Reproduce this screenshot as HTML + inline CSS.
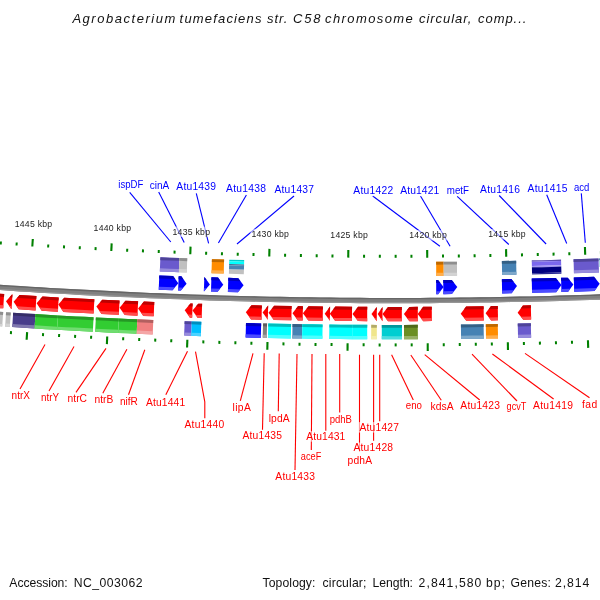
<!DOCTYPE html>
<html><head><meta charset="utf-8"><style>
html,body{margin:0;padding:0;background:#fff;width:600px;height:600px;overflow:hidden}
svg{display:block;font-family:"Liberation Sans",sans-serif}
svg{will-change:transform}
</style></head><body>
<svg width="600" height="600" viewBox="0 0 600 600">
<rect width="600" height="600" fill="#fff"/>
<text x="72.40" y="22.50" font-size="13.0" font-style="italic" fill="#111" textLength="103.00" lengthAdjust="spacing">Agrobacterium</text>
<text x="179.60" y="22.50" font-size="13.0" font-style="italic" fill="#111" textLength="81.80" lengthAdjust="spacing">tumefaciens</text>
<text x="267.00" y="22.50" font-size="13.0" font-style="italic" fill="#111" textLength="20.40" lengthAdjust="spacing">str.</text>
<text x="293.00" y="22.50" font-size="13.0" font-style="italic" fill="#111" textLength="27.40" lengthAdjust="spacing">C58</text>
<text x="325.00" y="22.50" font-size="13.0" font-style="italic" fill="#111" textLength="87.80" lengthAdjust="spacing">chromosome</text>
<text x="419.00" y="22.50" font-size="13.0" font-style="italic" fill="#111" textLength="52.40" lengthAdjust="spacing">circular,</text>
<text x="478.00" y="22.50" font-size="13.0" font-style="italic" fill="#111" textLength="48.40" lengthAdjust="spacing">comp...</text>
<polygon points="-19.82,283.42 -9.82,284.12 0.17,284.79 10.17,285.45 20.17,286.10 30.16,286.72 40.16,287.33 50.15,287.92 60.15,288.50 70.14,289.05 80.14,289.59 90.13,290.12 100.13,290.62 110.13,291.11 120.12,291.59 130.12,292.04 140.11,292.48 150.11,292.90 160.10,293.31 170.10,293.70 180.10,294.07 190.09,294.42 200.09,294.76 210.08,295.08 220.08,295.38 230.07,295.67 240.07,295.94 250.06,296.19 260.06,296.43 270.06,296.65 280.05,296.85 290.05,297.03 300.04,297.20 310.04,297.35 320.03,297.49 330.03,297.60 340.02,297.70 350.02,297.79 360.02,297.85 370.01,297.90 380.01,297.93 390.00,297.95 400.00,297.95 409.99,297.93 419.99,297.89 429.98,297.84 439.98,297.77 449.98,297.68 459.97,297.58 469.97,297.46 479.96,297.32 489.96,297.17 499.95,297.00 509.95,296.81 519.94,296.60 529.94,296.38 539.94,296.14 549.93,295.89 559.93,295.61 569.92,295.32 579.92,295.02 589.91,294.69 599.91,294.35 609.90,294.00 619.90,293.62 620.10,298.92 610.10,299.30 600.09,299.65 590.09,299.99 580.08,300.32 570.08,300.62 560.07,300.91 550.07,301.19 540.06,301.44 530.06,301.68 520.06,301.90 510.05,302.11 500.05,302.30 490.04,302.47 480.04,302.62 470.03,302.76 460.03,302.88 450.02,302.98 440.02,303.07 430.02,303.14 420.01,303.19 410.01,303.23 400.00,303.25 390.00,303.25 379.99,303.23 369.99,303.20 359.98,303.15 349.98,303.09 339.98,303.00 329.97,302.90 319.97,302.79 309.96,302.65 299.96,302.50 289.95,302.33 279.95,302.15 269.94,301.95 259.94,301.73 249.94,301.49 239.93,301.24 229.93,300.97 219.92,300.68 209.92,300.38 199.91,300.06 189.91,299.72 179.90,299.37 169.90,299.00 159.90,298.61 149.89,298.20 139.89,297.78 129.88,297.34 119.88,296.89 109.87,296.41 99.87,295.92 89.87,295.42 79.86,294.89 69.86,294.35 59.85,293.80 49.85,293.22 39.84,292.63 29.84,292.02 19.83,291.40 9.83,290.75 -0.17,290.09 -10.18,289.42 -20.18,288.72" fill="#808080"/>
<polygon points="-19.82,283.42 -9.82,284.12 0.17,284.79 10.17,285.45 20.17,286.10 30.16,286.72 40.16,287.33 50.15,287.92 60.15,288.50 70.14,289.05 80.14,289.59 90.13,290.12 100.13,290.62 110.13,291.11 120.12,291.59 130.12,292.04 140.11,292.48 150.11,292.90 160.10,293.31 170.10,293.70 180.10,294.07 190.09,294.42 200.09,294.76 210.08,295.08 220.08,295.38 230.07,295.67 240.07,295.94 250.06,296.19 260.06,296.43 270.06,296.65 280.05,296.85 290.05,297.03 300.04,297.20 310.04,297.35 320.03,297.49 330.03,297.60 340.02,297.70 350.02,297.79 360.02,297.85 370.01,297.90 380.01,297.93 390.00,297.95 400.00,297.95 409.99,297.93 419.99,297.89 429.98,297.84 439.98,297.77 449.98,297.68 459.97,297.58 469.97,297.46 479.96,297.32 489.96,297.17 499.95,297.00 509.95,296.81 519.94,296.60 529.94,296.38 539.94,296.14 549.93,295.89 559.93,295.61 569.92,295.32 579.92,295.02 589.91,294.69 599.91,294.35 609.90,294.00 619.90,293.62 619.95,294.97 609.95,295.35 599.96,295.70 589.96,296.04 579.96,296.37 569.96,296.67 559.96,296.96 549.97,297.24 539.97,297.49 529.97,297.73 519.97,297.95 509.97,298.16 499.98,298.35 489.98,298.52 479.98,298.67 469.98,298.81 459.99,298.93 449.99,299.03 439.99,299.12 429.99,299.19 419.99,299.24 410.00,299.28 400.00,299.30 390.00,299.30 380.00,299.28 370.01,299.25 360.01,299.20 350.01,299.14 340.01,299.05 330.01,298.95 320.02,298.84 310.02,298.70 300.02,298.55 290.02,298.38 280.02,298.20 270.03,298.00 260.03,297.78 250.03,297.54 240.03,297.29 230.04,297.02 220.04,296.73 210.04,296.43 200.04,296.11 190.04,295.77 180.05,295.42 170.05,295.05 160.05,294.66 150.05,294.25 140.06,293.83 130.06,293.39 120.06,292.94 110.06,292.46 100.06,291.97 90.07,291.47 80.07,290.94 70.07,290.40 60.07,289.85 50.07,289.27 40.08,288.68 30.08,288.07 20.08,287.45 10.08,286.80 0.09,286.14 -9.91,285.47 -19.91,284.77" fill="#666666"/>
<polygon points="-20.10,287.57 -10.10,288.27 -0.10,288.94 9.90,289.60 19.91,290.25 29.91,290.87 39.91,291.48 49.91,292.07 59.92,292.65 69.92,293.20 79.92,293.74 89.92,294.27 99.93,294.77 109.93,295.26 119.93,295.74 129.93,296.19 139.94,296.63 149.94,297.05 159.94,297.46 169.94,297.85 179.95,298.22 189.95,298.57 199.95,298.91 209.95,299.23 219.96,299.53 229.96,299.82 239.96,300.09 249.96,300.34 259.97,300.58 269.97,300.80 279.97,301.00 289.97,301.18 299.98,301.35 309.98,301.50 319.98,301.64 329.98,301.75 339.99,301.85 349.99,301.94 359.99,302.00 369.99,302.05 380.00,302.08 390.00,302.10 400.00,302.10 410.00,302.08 420.01,302.04 430.01,301.99 440.01,301.92 450.01,301.83 460.02,301.73 470.02,301.61 480.02,301.47 490.02,301.32 500.03,301.15 510.03,300.96 520.03,300.75 530.03,300.53 540.04,300.29 550.04,300.04 560.04,299.76 570.04,299.47 580.05,299.17 590.05,298.84 600.05,298.50 610.05,298.15 620.06,297.77 620.10,298.92 610.10,299.30 600.09,299.65 590.09,299.99 580.08,300.32 570.08,300.62 560.07,300.91 550.07,301.19 540.06,301.44 530.06,301.68 520.06,301.90 510.05,302.11 500.05,302.30 490.04,302.47 480.04,302.62 470.03,302.76 460.03,302.88 450.02,302.98 440.02,303.07 430.02,303.14 420.01,303.19 410.01,303.23 400.00,303.25 390.00,303.25 379.99,303.23 369.99,303.20 359.98,303.15 349.98,303.09 339.98,303.00 329.97,302.90 319.97,302.79 309.96,302.65 299.96,302.50 289.95,302.33 279.95,302.15 269.94,301.95 259.94,301.73 249.94,301.49 239.93,301.24 229.93,300.97 219.92,300.68 209.92,300.38 199.91,300.06 189.91,299.72 179.90,299.37 169.90,299.00 159.90,298.61 149.89,298.20 139.89,297.78 129.88,297.34 119.88,296.89 109.87,296.41 99.87,295.92 89.87,295.42 79.86,294.89 69.86,294.35 59.85,293.80 49.85,293.22 39.84,292.63 29.84,292.02 19.83,291.40 9.83,290.75 -0.17,290.09 -10.18,289.42 -20.18,288.72" fill="#969696"/>
<polygon points="4.17,294.05 -2.01,293.64 -8.00,300.42 -2.96,307.94 3.23,308.35" fill="#ff0000"/>
<polygon points="4.17,294.05 -2.01,293.64 -4.53,296.49 3.97,297.05" fill="#bd0000"/>
<polygon points="3.43,305.35 -5.08,304.78 -2.96,307.94 3.23,308.35" fill="#ff4c4c"/>
<polygon points="-1.52,311.75 3.17,312.06 2.23,326.46 -2.48,326.15" fill="#c0c0c0"/>
<polygon points="-1.52,311.75 3.17,312.06 2.98,314.94 -1.71,314.63" fill="#8e8e8e"/>
<polygon points="-2.27,322.98 2.44,323.29 2.23,326.46 -2.48,326.15" fill="#d3d3d3"/>
<polygon points="12.46,294.59 11.97,294.56 6.00,301.35 11.06,308.86 11.54,308.89" fill="#ff0000"/>
<polygon points="12.46,294.59 11.97,294.56 9.46,297.41 12.26,297.59" fill="#bd0000"/>
<polygon points="11.74,305.89 8.93,305.70 11.06,308.86 11.54,308.89" fill="#ff4c4c"/>
<polygon points="6.07,312.25 10.76,312.55 9.84,326.95 5.13,326.65" fill="#c0c0c0"/>
<polygon points="6.07,312.25 10.76,312.55 10.58,315.43 5.88,315.13" fill="#8e8e8e"/>
<polygon points="5.34,323.48 10.04,323.79 9.84,326.95 5.13,326.65" fill="#d3d3d3"/>
<polygon points="36.43,296.09 19.56,295.04 13.60,301.84 18.66,309.34 35.57,310.39" fill="#ff0000"/>
<polygon points="36.43,296.09 19.56,295.04 17.06,297.90 36.25,299.09" fill="#bd0000"/>
<polygon points="35.75,307.38 16.54,306.19 18.66,309.34 35.57,310.39" fill="#ff4c4c"/>
<polygon points="13.16,312.71 24.29,313.41 35.43,314.09 34.57,328.49 23.41,327.81 12.24,327.11" fill="#483d8b"/>
<polygon points="13.16,312.71 24.29,313.41 35.43,314.09 35.26,316.97 24.12,316.29 12.97,315.59" fill="#352d67"/>
<polygon points="12.44,323.94 23.60,324.64 34.76,325.32 34.57,328.49 23.41,327.81 12.24,327.11" fill="#7f77ae"/>
<polygon points="58.70,297.39 42.53,296.45 36.60,303.27 41.69,310.75 57.90,311.69" fill="#ff0000"/>
<polygon points="58.70,297.39 42.53,296.45 40.04,299.32 58.53,300.40" fill="#bd0000"/>
<polygon points="58.07,308.69 39.55,307.61 41.69,310.75 57.90,311.69" fill="#ff4c4c"/>
<polygon points="35.43,314.09 46.67,314.76 57.90,315.40 57.10,329.80 45.83,329.16 34.57,328.49" fill="#32cd32"/>
<polygon points="35.43,314.09 46.67,314.76 57.90,315.40 57.74,318.28 46.50,317.64 35.26,316.97" fill="#259825"/>
<polygon points="34.76,325.32 46.02,325.99 57.27,326.64 57.10,329.80 45.83,329.16 34.57,328.49" fill="#70dc70"/>
<polygon points="94.36,299.31 64.21,297.70 58.30,304.54 63.42,312.00 93.64,313.61" fill="#ff0000"/>
<polygon points="94.36,299.31 64.21,297.70 61.73,300.58 94.21,302.31" fill="#bd0000"/>
<polygon points="93.79,310.60 61.27,308.87 63.42,312.00 93.64,313.61" fill="#ff4c4c"/>
<polygon points="57.90,315.40 66.82,315.90 75.73,316.39 84.65,316.86 93.56,317.31 92.84,331.71 83.90,331.26 74.97,330.79 66.03,330.30 57.10,329.80" fill="#32cd32"/>
<polygon points="57.90,315.40 66.82,315.90 75.73,316.39 84.65,316.86 93.56,317.31 93.42,320.19 84.50,319.74 75.58,319.27 66.66,318.78 57.74,318.28" fill="#259825"/>
<polygon points="57.27,326.64 66.20,327.13 75.14,327.62 84.07,328.09 93.00,328.54 92.84,331.71 83.90,331.26 74.97,330.79 66.03,330.30 57.10,329.80" fill="#70dc70"/>
<polygon points="119.53,300.53 102.26,299.70 96.40,306.58 101.56,314.00 118.87,314.83" fill="#ff0000"/>
<polygon points="119.53,300.53 102.26,299.70 99.80,302.59 119.39,303.53" fill="#bd0000"/>
<polygon points="119.01,311.83 99.39,310.88 101.56,314.00 118.87,314.83" fill="#ff4c4c"/>
<polygon points="95.86,317.43 107.34,317.99 118.83,318.54 118.17,332.94 106.66,332.39 95.14,331.83" fill="#32cd32"/>
<polygon points="95.86,317.43 107.34,317.99 118.83,318.54 118.70,321.42 107.21,320.87 95.71,320.31" fill="#259825"/>
<polygon points="95.30,328.66 106.81,329.22 118.31,329.77 118.17,332.94 106.66,332.39 95.14,331.83" fill="#70dc70"/>
<polygon points="138.11,301.36 125.43,300.80 119.60,307.70 124.79,315.10 137.49,315.66" fill="#ff0000"/>
<polygon points="138.11,301.36 125.43,300.80 122.99,303.70 137.98,304.37" fill="#bd0000"/>
<polygon points="137.62,312.66 122.61,311.99 124.79,315.10 137.49,315.66" fill="#ff4c4c"/>
<polygon points="118.83,318.54 128.07,318.96 137.31,319.36 136.69,333.76 127.43,333.36 118.17,332.94" fill="#32cd32"/>
<polygon points="118.83,318.54 128.07,318.96 137.31,319.36 137.19,322.24 127.94,321.84 118.70,321.42" fill="#259825"/>
<polygon points="118.31,329.77 127.57,330.19 136.83,330.59 136.69,333.76 127.43,333.36 118.17,332.94" fill="#70dc70"/>
<polygon points="154.29,302.04 143.91,301.61 138.10,308.53 143.31,315.91 153.71,316.34" fill="#ff0000"/>
<polygon points="154.29,302.04 143.91,301.61 141.47,304.52 154.17,305.04" fill="#bd0000"/>
<polygon points="153.83,313.34 141.12,312.81 143.31,315.91 153.71,316.34" fill="#ff4c4c"/>
<polygon points="137.31,319.36 153.29,320.03 152.71,334.43 136.69,333.76" fill="#f08080"/>
<polygon points="137.31,319.36 153.29,320.03 153.17,322.91 137.19,322.24" fill="#b25f5f"/>
<polygon points="136.83,330.59 152.84,331.26 152.71,334.43 136.69,333.76" fill="#f4a6a6"/>
<polygon points="192.64,303.47 190.46,303.40 184.70,310.35 189.97,317.70 192.16,317.77" fill="#ff0000"/>
<polygon points="192.64,303.47 190.46,303.40 188.04,306.32 192.54,306.47" fill="#bd0000"/>
<polygon points="192.26,314.77 187.75,314.61 189.97,317.70 192.16,317.77" fill="#ff4c4c"/>
<polygon points="184.65,321.22 191.74,321.46 191.26,335.86 184.15,335.62" fill="#6a5acd"/>
<polygon points="184.65,321.22 191.74,321.46 191.65,324.34 184.55,324.10" fill="#4e4398"/>
<polygon points="184.26,332.45 191.36,332.69 191.26,335.86 184.15,335.62" fill="#978cdc"/>
<polygon points="202.13,303.79 198.25,303.66 192.50,310.62 197.78,317.96 201.67,318.09" fill="#ff0000"/>
<polygon points="202.13,303.79 198.25,303.66 195.83,306.59 202.03,306.79" fill="#bd0000"/>
<polygon points="201.77,315.08 195.56,314.88 197.78,317.96 201.67,318.09" fill="#ff4c4c"/>
<polygon points="191.74,321.46 201.33,321.78 200.87,336.18 191.26,335.86" fill="#00bfff"/>
<polygon points="191.74,321.46 201.33,321.78 201.24,324.66 191.65,324.34" fill="#008dbd"/>
<polygon points="191.36,332.69 200.97,333.01 200.87,336.18 191.26,335.86" fill="#4cd2ff"/>
<polygon points="261.86,305.42 251.48,305.18 245.80,312.20 251.14,319.48 261.54,319.72" fill="#ff0000"/>
<polygon points="261.86,305.42 251.48,305.18 249.10,308.13 261.79,308.43" fill="#bd0000"/>
<polygon points="261.61,316.72 248.90,316.42 251.14,319.48 261.54,319.72" fill="#ff4c4c"/>
<polygon points="245.98,323.06 261.16,323.42 260.84,337.82 245.62,337.46" fill="#0000ff"/>
<polygon points="245.98,323.06 261.16,323.42 261.10,326.30 245.91,325.94" fill="#0000bd"/>
<polygon points="245.70,334.29 260.91,334.65 260.84,337.82 245.62,337.46" fill="#4c4cff"/>
<polygon points="268.15,305.56 268.15,305.56 262.60,312.59 267.85,319.86 267.85,319.86" fill="#ff0000"/>
<polygon points="268.15,305.56 268.15,305.56 265.82,308.51 268.09,308.56" fill="#bd0000"/>
<polygon points="267.91,316.86 265.64,316.81 267.85,319.86 267.85,319.86" fill="#ff4c4c"/>
<polygon points="263.06,323.46 267.05,323.55 266.75,337.95 262.74,337.86" fill="#808080"/>
<polygon points="263.06,323.46 267.05,323.55 266.99,326.43 262.99,326.34" fill="#5f5f5f"/>
<polygon points="262.81,334.69 266.81,334.78 266.75,337.95 262.74,337.86" fill="#a6a6a6"/>
<polygon points="291.62,306.01 274.16,305.69 268.50,312.72 273.87,319.99 291.38,320.31" fill="#ff0000"/>
<polygon points="291.62,306.01 274.16,305.69 271.78,308.64 291.57,309.02" fill="#bd0000"/>
<polygon points="291.43,317.31 271.61,316.94 273.87,319.99 291.38,320.31" fill="#ff4c4c"/>
<polygon points="268.25,323.57 279.69,323.80 291.12,324.01 290.88,338.41 279.41,338.20 267.95,337.97" fill="#00ffff"/>
<polygon points="268.25,323.57 279.69,323.80 291.12,324.01 291.07,326.89 279.63,326.68 268.19,326.45" fill="#00bdbd"/>
<polygon points="268.02,334.80 279.47,335.03 290.93,335.24 290.88,338.41 279.41,338.20 267.95,337.97" fill="#4cffff"/>
<polygon points="302.91,306.20 298.13,306.12 292.50,313.18 297.90,320.42 302.69,320.50" fill="#ff0000"/>
<polygon points="302.91,306.20 298.13,306.12 295.77,309.09 302.86,309.20" fill="#bd0000"/>
<polygon points="302.74,317.50 295.63,317.38 297.90,320.42 302.69,320.50" fill="#ff4c4c"/>
<polygon points="292.52,324.03 302.31,324.19 302.09,338.59 292.28,338.43" fill="#4682b4"/>
<polygon points="292.52,324.03 302.31,324.19 302.27,327.07 292.47,326.91" fill="#346085"/>
<polygon points="292.33,335.27 302.14,335.43 302.09,338.59 292.28,338.43" fill="#7ea8ca"/>
<polygon points="322.89,306.47 308.51,306.28 302.90,313.35 308.31,320.58 322.71,320.77" fill="#ff0000"/>
<polygon points="322.89,306.47 308.51,306.28 306.16,309.25 322.85,309.48" fill="#bd0000"/>
<polygon points="322.75,317.77 306.04,317.55 308.31,320.58 322.71,320.77" fill="#ff4c4c"/>
<polygon points="302.31,324.19 312.45,324.34 322.59,324.47 322.41,338.87 312.25,338.74 302.09,338.59" fill="#00ffff"/>
<polygon points="302.31,324.19 312.45,324.34 322.59,324.47 322.55,327.35 312.41,327.22 302.27,327.07" fill="#00bdbd"/>
<polygon points="302.14,335.43 312.30,335.57 322.45,335.70 322.41,338.87 312.25,338.74 302.09,338.59" fill="#4cffff"/>
<polygon points="330.08,306.55 330.08,306.55 324.70,313.64 329.92,320.85 329.92,320.85" fill="#ff0000"/>
<polygon points="330.08,306.55 330.08,306.55 327.82,309.53 330.04,309.56" fill="#bd0000"/>
<polygon points="329.96,317.85 327.73,317.83 329.92,320.85 329.92,320.85" fill="#ff4c4c"/>
<polygon points="352.05,306.75 335.38,306.61 329.80,313.70 335.24,320.91 351.95,321.05" fill="#ff0000"/>
<polygon points="352.05,306.75 335.38,306.61 333.04,309.59 352.03,309.75" fill="#bd0000"/>
<polygon points="351.97,318.05 332.95,317.88 335.24,320.91 351.95,321.05" fill="#ff4c4c"/>
<polygon points="329.38,324.55 340.81,324.66 352.25,324.75 352.15,339.15 340.69,339.06 329.22,338.95" fill="#00ffff"/>
<polygon points="329.38,324.55 340.81,324.66 352.25,324.75 352.23,327.63 340.79,327.54 329.35,327.43" fill="#00bdbd"/>
<polygon points="329.26,335.78 340.71,335.89 352.17,335.99 352.15,339.15 340.69,339.06 329.22,338.95" fill="#4cffff"/>
<polygon points="367.23,306.84 358.06,306.79 352.50,313.90 357.97,321.09 367.17,321.14" fill="#ff0000"/>
<polygon points="367.23,306.84 358.06,306.79 355.72,309.78 367.22,309.84" fill="#bd0000"/>
<polygon points="367.18,318.14 355.67,318.07 357.97,321.09 367.17,321.14" fill="#ff4c4c"/>
<polygon points="352.25,324.75 367.23,324.84 367.17,339.24 352.15,339.15" fill="#00ffff"/>
<polygon points="352.25,324.75 367.23,324.84 367.22,327.72 352.23,327.63" fill="#00bdbd"/>
<polygon points="352.17,335.99 367.18,336.07 367.17,339.24 352.15,339.15" fill="#4cffff"/>
<polygon points="376.82,306.88 376.82,306.88 371.50,314.01 376.78,321.18 376.78,321.18" fill="#ff0000"/>
<polygon points="376.82,306.88 376.82,306.88 374.59,309.87 376.81,309.88" fill="#bd0000"/>
<polygon points="376.79,318.17 374.56,318.17 376.78,321.18 376.78,321.18" fill="#ff4c4c"/>
<polygon points="371.23,324.86 376.82,324.88 376.78,339.28 371.17,339.26" fill="#f0e68c"/>
<polygon points="371.23,324.86 376.82,324.88 376.81,327.76 371.22,327.74" fill="#b2aa68"/>
<polygon points="371.18,336.09 376.79,336.11 376.78,339.28 371.17,339.26" fill="#f4eeae"/>
<polygon points="382.51,306.89 382.51,306.89 377.70,314.03 382.49,321.19 382.49,321.19" fill="#ff0000"/>
<polygon points="382.51,306.89 382.51,306.89 380.49,309.89 382.51,309.89" fill="#bd0000"/>
<polygon points="382.49,318.19 380.47,318.18 382.49,321.19 382.49,321.19" fill="#ff4c4c"/>
<polygon points="401.79,306.89 388.02,306.90 382.50,314.04 388.01,321.20 401.81,321.19" fill="#ff0000"/>
<polygon points="401.79,306.89 388.02,306.90 385.70,309.90 401.79,309.90" fill="#bd0000"/>
<polygon points="401.81,318.19 385.69,318.19 388.01,321.20 401.81,321.19" fill="#ff4c4c"/>
<polygon points="381.81,324.89 391.90,324.90 401.99,324.89 402.01,339.29 391.90,339.30 381.79,339.29" fill="#00ced1"/>
<polygon points="381.81,324.89 391.90,324.90 401.99,324.89 401.99,327.77 391.90,327.78 381.81,327.77" fill="#00989b"/>
<polygon points="381.79,336.12 391.90,336.13 402.01,336.13 402.01,339.29 391.90,339.30 381.79,339.29" fill="#4cdddf"/>
<polygon points="417.77,306.85 409.39,306.88 403.90,314.04 409.43,321.18 417.83,321.15" fill="#ff0000"/>
<polygon points="417.77,306.85 409.39,306.88 407.09,309.89 417.78,309.86" fill="#bd0000"/>
<polygon points="417.82,318.15 407.11,318.18 409.43,321.18 417.83,321.15" fill="#ff4c4c"/>
<polygon points="403.99,324.89 417.77,324.85 417.83,339.25 404.01,339.29" fill="#6b8e23"/>
<polygon points="403.99,324.89 417.77,324.85 417.78,327.73 403.99,327.77" fill="#4f691a"/>
<polygon points="404.01,336.12 417.82,336.08 417.83,339.25 404.01,339.29" fill="#97b065"/>
<polygon points="431.75,306.78 423.18,306.83 417.70,314.00 423.25,321.13 431.85,321.08" fill="#ff0000"/>
<polygon points="431.75,306.78 423.18,306.83 420.88,309.84 431.77,309.78" fill="#bd0000"/>
<polygon points="431.83,318.08 420.92,318.14 423.25,321.13 431.85,321.08" fill="#ff4c4c"/>
<polygon points="483.59,306.22 466.13,306.46 460.70,313.67 466.30,320.76 483.81,320.52" fill="#ff0000"/>
<polygon points="483.59,306.22 466.13,306.46 463.85,309.49 483.64,309.22" fill="#bd0000"/>
<polygon points="483.76,317.52 463.95,317.78 466.30,320.76 483.81,320.52" fill="#ff4c4c"/>
<polygon points="460.92,324.52 472.26,324.39 483.59,324.23 483.81,338.63 472.44,338.79 461.08,338.92" fill="#4682b4"/>
<polygon points="460.92,324.52 472.26,324.39 483.59,324.23 483.64,327.11 472.29,327.27 460.95,327.40" fill="#346085"/>
<polygon points="461.05,335.76 472.40,335.62 483.76,335.46 483.81,338.63 472.44,338.79 461.08,338.92" fill="#7ea8ca"/>
<polygon points="497.78,305.99 491.00,306.10 485.60,313.34 491.23,320.40 498.02,320.29" fill="#ff0000"/>
<polygon points="497.78,305.99 491.00,306.10 488.73,309.14 497.83,308.99" fill="#bd0000"/>
<polygon points="497.97,317.29 488.86,317.44 491.23,320.40 498.02,320.29" fill="#ff4c4c"/>
<polygon points="485.79,324.19 497.78,323.99 498.02,338.39 486.01,338.59" fill="#ff8c00"/>
<polygon points="485.79,324.19 497.78,323.99 497.83,326.87 485.83,327.07" fill="#bd6800"/>
<polygon points="485.96,335.42 497.97,335.23 498.02,338.39 486.01,338.59" fill="#ffae4c"/>
<polygon points="530.84,305.32 522.96,305.49 517.60,312.76 523.27,319.79 531.16,319.62" fill="#ff0000"/>
<polygon points="530.84,305.32 522.96,305.49 520.71,308.55 530.91,308.32" fill="#bd0000"/>
<polygon points="531.09,316.61 520.89,316.84 523.27,319.79 531.16,319.62" fill="#ff4c4c"/>
<polygon points="517.75,323.61 530.84,323.33 531.16,337.73 518.05,338.01" fill="#6a5acd"/>
<polygon points="517.75,323.61 530.84,323.33 530.90,326.21 517.81,326.49" fill="#4e4398"/>
<polygon points="517.98,334.84 531.09,334.56 531.16,337.73 518.05,338.01" fill="#978cdc"/>
<polygon points="159.28,275.50 173.08,276.04 178.30,283.34 172.55,290.24 158.72,289.70" fill="#0000ff"/>
<polygon points="159.28,275.50 173.08,276.04 175.27,279.10 159.16,278.48" fill="#0000bd"/>
<polygon points="158.84,286.72 174.97,287.34 172.55,290.24 158.72,289.70" fill="#4c4cff"/>
<polygon points="160.38,257.31 169.87,257.69 179.36,258.04 178.85,272.14 169.34,271.79 159.82,271.41" fill="#6a5acd"/>
<polygon points="160.38,257.31 169.87,257.69 179.36,258.04 179.25,260.86 169.76,260.51 160.27,260.13" fill="#4e4398"/>
<polygon points="159.95,268.31 169.45,268.69 178.96,269.04 178.85,272.14 169.34,271.79 159.82,271.41" fill="#978cdc"/>
<polygon points="178.66,276.24 181.37,276.34 186.60,283.64 180.86,290.54 178.14,290.44" fill="#0000ff"/>
<polygon points="178.66,276.24 181.37,276.34 183.56,279.41 178.55,279.23" fill="#0000bd"/>
<polygon points="178.25,287.46 183.27,287.64 180.86,290.54 178.14,290.44" fill="#4c4cff"/>
<polygon points="179.36,258.04 187.25,258.33 186.76,272.43 178.85,272.14" fill="#c0c0c0"/>
<polygon points="179.36,258.04 187.25,258.33 187.15,261.15 179.25,260.86" fill="#8e8e8e"/>
<polygon points="178.96,269.04 186.86,269.33 186.76,272.43 178.85,272.14" fill="#d3d3d3"/>
<polygon points="204.33,277.13 204.64,277.14 209.90,284.41 204.19,291.34 203.87,291.33" fill="#0000ff"/>
<polygon points="204.33,277.13 204.64,277.14 206.85,280.20 204.23,280.11" fill="#0000bd"/>
<polygon points="203.97,288.35 206.59,288.43 204.19,291.34 203.87,291.33" fill="#4c4cff"/>
<polygon points="211.42,277.36 218.02,277.56 223.30,284.82 217.60,291.76 210.98,291.56" fill="#0000ff"/>
<polygon points="211.42,277.36 218.02,277.56 220.24,280.61 211.33,280.34" fill="#0000bd"/>
<polygon points="211.07,288.57 220.00,288.84 217.60,291.76 210.98,291.56" fill="#4c4cff"/>
<polygon points="211.92,259.15 224.10,259.52 223.70,273.62 211.49,273.25" fill="#ff8c00"/>
<polygon points="211.92,259.15 224.10,259.52 224.02,262.34 211.83,261.97" fill="#bd6800"/>
<polygon points="211.58,270.15 223.79,270.52 223.70,273.62 211.49,273.25" fill="#ffae4c"/>
<polygon points="228.30,277.86 238.30,278.13 243.60,285.37 237.93,292.33 227.90,292.06" fill="#0000ff"/>
<polygon points="228.30,277.86 238.30,278.13 240.52,281.17 228.21,280.84" fill="#0000bd"/>
<polygon points="227.99,289.08 240.31,289.41 237.93,292.33 227.90,292.06" fill="#4c4cff"/>
<polygon points="229.30,259.67 244.18,260.07 244.14,261.67 229.25,261.27" fill="#00cccc"/>
<polygon points="229.25,261.27 244.14,261.67 244.07,264.47 229.17,264.07" fill="#00ffff"/>
<polygon points="229.17,264.07 244.07,264.47 244.04,265.67 229.14,265.27" fill="#386890"/>
<polygon points="229.14,265.27 244.04,265.67 243.93,269.87 229.03,269.47" fill="#4682b4"/>
<polygon points="229.03,269.47 243.93,269.87 243.82,274.17 228.91,273.77" fill="#c0c0c0"/>
<polygon points="436.15,280.05 438.06,280.03 443.60,287.09 438.16,294.23 436.25,294.25" fill="#0000ff"/>
<polygon points="436.15,280.05 438.06,280.03 440.39,283.00 436.17,283.03" fill="#0000bd"/>
<polygon points="436.23,291.27 440.45,291.23 438.16,294.23 436.25,294.25" fill="#4c4cff"/>
<polygon points="436.15,261.85 443.64,261.79 443.76,275.89 436.25,275.95" fill="#ff8c00"/>
<polygon points="436.15,261.85 443.64,261.79 443.66,264.61 436.17,264.67" fill="#bd6800"/>
<polygon points="436.23,272.85 443.73,272.79 443.76,275.89 436.25,275.95" fill="#ffae4c"/>
<polygon points="443.24,279.99 451.74,279.92 457.30,286.96 451.88,294.12 443.36,294.19" fill="#0000ff"/>
<polygon points="443.24,279.99 451.74,279.92 454.08,282.87 443.27,282.98" fill="#0000bd"/>
<polygon points="443.33,291.21 454.16,291.11 451.88,294.12 443.36,294.19" fill="#4c4cff"/>
<polygon points="443.64,261.79 456.92,261.66 457.07,275.76 443.76,275.89" fill="#c0c0c0"/>
<polygon points="443.64,261.79 456.92,261.66 456.95,264.48 443.66,264.61" fill="#8e8e8e"/>
<polygon points="443.73,272.79 457.04,272.66 457.07,275.76 443.76,275.89" fill="#d3d3d3"/>
<polygon points="501.87,279.21 511.37,279.02 517.00,286.01 511.65,293.22 502.13,293.41" fill="#0000ff"/>
<polygon points="501.87,279.21 511.37,279.02 513.73,281.96 501.93,282.19" fill="#0000bd"/>
<polygon points="502.07,290.43 513.90,290.20 511.65,293.22 502.13,293.41" fill="#4c4cff"/>
<polygon points="501.87,261.00 516.15,260.72 516.44,274.82 502.13,275.10" fill="#4682b4"/>
<polygon points="501.87,261.00 516.15,260.72 516.21,263.54 501.92,263.82" fill="#346085"/>
<polygon points="502.07,272.00 516.38,271.72 516.44,274.82 502.13,275.10" fill="#7ea8ca"/>
<polygon points="531.74,278.58 555.82,277.97 561.50,284.91 556.21,292.17 532.06,292.78" fill="#0000ff"/>
<polygon points="531.74,278.58 555.82,277.97 558.20,280.88 531.80,281.56" fill="#0000bd"/>
<polygon points="532.00,289.80 558.43,289.12 556.21,292.17 532.06,292.78" fill="#4c4cff"/>
<polygon points="531.74,260.37 541.51,260.13 551.28,259.88 561.05,259.60 561.09,261.00 551.32,261.28 541.54,261.53 531.77,261.77" fill="#5c4eb2"/>
<polygon points="531.77,261.77 541.54,261.53 551.32,261.28 561.09,261.00 561.21,265.20 551.43,265.48 541.65,265.73 531.87,265.97" fill="#7b68ee"/>
<polygon points="531.87,265.97 541.65,265.73 551.43,265.48 561.21,265.20 561.25,266.60 551.46,266.88 541.68,267.13 531.90,267.37" fill="#a395f3"/>
<polygon points="531.90,267.37 541.68,267.13 551.46,266.88 561.25,266.60 561.41,272.40 551.62,272.68 541.83,272.93 532.03,273.17" fill="#000080"/>
<polygon points="532.03,273.17 541.83,272.93 551.62,272.68 561.41,272.40 561.45,273.70 551.65,273.98 541.86,274.23 532.06,274.47" fill="#262693"/>
<polygon points="561.05,277.82 567.70,277.63 573.40,284.56 568.12,291.83 561.45,292.02" fill="#0000ff"/>
<polygon points="561.05,277.82 567.70,277.63 570.10,280.54 561.13,280.80" fill="#0000bd"/>
<polygon points="561.37,289.04 570.34,288.77 568.12,291.83 561.45,292.02" fill="#4c4cff"/>
<polygon points="573.79,277.44 593.97,276.79 599.70,283.70 594.45,290.99 574.21,291.64" fill="#0000ff"/>
<polygon points="573.79,277.44 593.97,276.79 596.38,279.69 573.88,280.42" fill="#0000bd"/>
<polygon points="574.12,288.66 596.66,287.93 594.45,290.99 574.21,291.64" fill="#4c4cff"/>
<polygon points="573.54,259.23 581.86,258.97 590.18,258.70 598.51,258.41 598.99,272.51 590.65,272.80 582.31,273.07 573.96,273.33" fill="#6a5acd"/>
<polygon points="573.54,259.23 581.86,258.97 590.18,258.70 598.51,258.41 598.60,261.23 590.28,261.52 581.95,261.79 573.62,262.05" fill="#4e4398"/>
<polygon points="573.87,270.23 582.21,269.97 590.55,269.69 598.88,269.41 598.99,272.51 590.65,272.80 582.31,273.07 573.96,273.33" fill="#978cdc"/>
<polygon points="598.85,258.40 601.84,258.29 601.91,260.39 598.93,260.50" fill="#5a8caa"/>
<polygon points="598.93,260.50 601.91,260.39 602.14,266.89 599.15,267.00" fill="#aad7e1"/>
<line x1="600.98" y1="254.12" x2="600.88" y2="251.12" stroke="#008000" stroke-width="2.0"/>
<line x1="603.98" y1="339.72" x2="604.08" y2="342.72" stroke="#008000" stroke-width="2.0"/>
<line x1="585.19" y1="254.66" x2="584.94" y2="247.06" stroke="#008000" stroke-width="2.1"/>
<line x1="587.95" y1="340.26" x2="588.20" y2="347.86" stroke="#008000" stroke-width="2.1"/>
<line x1="569.39" y1="255.16" x2="569.30" y2="252.16" stroke="#008000" stroke-width="2.0"/>
<line x1="571.93" y1="340.76" x2="572.02" y2="343.76" stroke="#008000" stroke-width="2.0"/>
<line x1="553.60" y1="255.61" x2="553.52" y2="252.61" stroke="#008000" stroke-width="2.0"/>
<line x1="555.90" y1="341.21" x2="555.98" y2="344.21" stroke="#008000" stroke-width="2.0"/>
<line x1="537.80" y1="256.02" x2="537.73" y2="253.02" stroke="#008000" stroke-width="2.0"/>
<line x1="539.88" y1="341.62" x2="539.95" y2="344.62" stroke="#008000" stroke-width="2.0"/>
<line x1="522.01" y1="256.39" x2="521.94" y2="253.39" stroke="#008000" stroke-width="2.0"/>
<line x1="523.85" y1="341.99" x2="523.92" y2="344.99" stroke="#008000" stroke-width="2.0"/>
<line x1="506.21" y1="256.72" x2="506.07" y2="249.12" stroke="#008000" stroke-width="2.1"/>
<line x1="507.83" y1="342.32" x2="507.97" y2="349.92" stroke="#008000" stroke-width="2.1"/>
<line x1="490.41" y1="257.00" x2="490.36" y2="254.00" stroke="#008000" stroke-width="2.0"/>
<line x1="491.81" y1="342.60" x2="491.86" y2="345.60" stroke="#008000" stroke-width="2.0"/>
<line x1="474.62" y1="257.24" x2="474.58" y2="254.24" stroke="#008000" stroke-width="2.0"/>
<line x1="475.78" y1="342.84" x2="475.82" y2="345.84" stroke="#008000" stroke-width="2.0"/>
<line x1="458.82" y1="257.44" x2="458.79" y2="254.44" stroke="#008000" stroke-width="2.0"/>
<line x1="459.76" y1="343.04" x2="459.79" y2="346.04" stroke="#008000" stroke-width="2.0"/>
<line x1="443.03" y1="257.59" x2="443.00" y2="254.59" stroke="#008000" stroke-width="2.0"/>
<line x1="443.73" y1="343.19" x2="443.76" y2="346.19" stroke="#008000" stroke-width="2.0"/>
<line x1="427.23" y1="257.71" x2="427.19" y2="250.11" stroke="#008000" stroke-width="2.1"/>
<line x1="427.71" y1="343.31" x2="427.75" y2="350.91" stroke="#008000" stroke-width="2.1"/>
<line x1="411.43" y1="257.77" x2="411.43" y2="254.77" stroke="#008000" stroke-width="2.0"/>
<line x1="411.69" y1="343.37" x2="411.69" y2="346.37" stroke="#008000" stroke-width="2.0"/>
<line x1="395.64" y1="257.80" x2="395.64" y2="254.80" stroke="#008000" stroke-width="2.0"/>
<line x1="395.66" y1="343.40" x2="395.66" y2="346.40" stroke="#008000" stroke-width="2.0"/>
<line x1="379.84" y1="257.78" x2="379.85" y2="254.78" stroke="#008000" stroke-width="2.0"/>
<line x1="379.64" y1="343.38" x2="379.63" y2="346.38" stroke="#008000" stroke-width="2.0"/>
<line x1="364.05" y1="257.72" x2="364.06" y2="254.72" stroke="#008000" stroke-width="2.0"/>
<line x1="363.61" y1="343.32" x2="363.60" y2="346.32" stroke="#008000" stroke-width="2.0"/>
<line x1="348.25" y1="257.62" x2="348.31" y2="250.02" stroke="#008000" stroke-width="2.1"/>
<line x1="347.59" y1="343.22" x2="347.53" y2="350.82" stroke="#008000" stroke-width="2.1"/>
<line x1="332.45" y1="257.47" x2="332.49" y2="254.47" stroke="#008000" stroke-width="2.0"/>
<line x1="331.57" y1="343.07" x2="331.53" y2="346.07" stroke="#008000" stroke-width="2.0"/>
<line x1="316.66" y1="257.29" x2="316.70" y2="254.29" stroke="#008000" stroke-width="2.0"/>
<line x1="315.54" y1="342.89" x2="315.50" y2="345.89" stroke="#008000" stroke-width="2.0"/>
<line x1="300.86" y1="257.05" x2="300.91" y2="254.05" stroke="#008000" stroke-width="2.0"/>
<line x1="299.52" y1="342.65" x2="299.47" y2="345.65" stroke="#008000" stroke-width="2.0"/>
<line x1="285.07" y1="256.78" x2="285.12" y2="253.78" stroke="#008000" stroke-width="2.0"/>
<line x1="283.49" y1="342.38" x2="283.44" y2="345.38" stroke="#008000" stroke-width="2.0"/>
<line x1="269.27" y1="256.46" x2="269.43" y2="248.86" stroke="#008000" stroke-width="2.1"/>
<line x1="267.47" y1="342.06" x2="267.31" y2="349.66" stroke="#008000" stroke-width="2.1"/>
<line x1="253.48" y1="256.10" x2="253.55" y2="253.10" stroke="#008000" stroke-width="2.0"/>
<line x1="251.44" y1="341.70" x2="251.37" y2="344.70" stroke="#008000" stroke-width="2.0"/>
<line x1="237.68" y1="255.70" x2="237.76" y2="252.70" stroke="#008000" stroke-width="2.0"/>
<line x1="235.42" y1="341.30" x2="235.34" y2="344.30" stroke="#008000" stroke-width="2.0"/>
<line x1="221.88" y1="255.25" x2="221.97" y2="252.25" stroke="#008000" stroke-width="2.0"/>
<line x1="219.40" y1="340.85" x2="219.31" y2="343.85" stroke="#008000" stroke-width="2.0"/>
<line x1="206.09" y1="254.76" x2="206.18" y2="251.76" stroke="#008000" stroke-width="2.0"/>
<line x1="203.37" y1="340.36" x2="203.28" y2="343.36" stroke="#008000" stroke-width="2.0"/>
<line x1="190.29" y1="254.23" x2="190.55" y2="246.63" stroke="#008000" stroke-width="2.1"/>
<line x1="187.35" y1="339.83" x2="187.09" y2="347.43" stroke="#008000" stroke-width="2.1"/>
<line x1="174.50" y1="253.66" x2="174.61" y2="250.66" stroke="#008000" stroke-width="2.0"/>
<line x1="171.32" y1="339.26" x2="171.21" y2="342.26" stroke="#008000" stroke-width="2.0"/>
<line x1="158.70" y1="253.04" x2="158.82" y2="250.04" stroke="#008000" stroke-width="2.0"/>
<line x1="155.30" y1="338.64" x2="155.18" y2="341.64" stroke="#008000" stroke-width="2.0"/>
<line x1="142.90" y1="252.38" x2="143.03" y2="249.38" stroke="#008000" stroke-width="2.0"/>
<line x1="139.28" y1="337.98" x2="139.15" y2="340.98" stroke="#008000" stroke-width="2.0"/>
<line x1="127.11" y1="251.68" x2="127.24" y2="248.68" stroke="#008000" stroke-width="2.0"/>
<line x1="123.25" y1="337.28" x2="123.12" y2="340.28" stroke="#008000" stroke-width="2.0"/>
<line x1="111.31" y1="250.93" x2="111.67" y2="243.33" stroke="#008000" stroke-width="2.1"/>
<line x1="107.23" y1="336.53" x2="106.87" y2="344.13" stroke="#008000" stroke-width="2.1"/>
<line x1="95.52" y1="250.14" x2="95.67" y2="247.14" stroke="#008000" stroke-width="2.0"/>
<line x1="91.20" y1="335.74" x2="91.05" y2="338.74" stroke="#008000" stroke-width="2.0"/>
<line x1="79.72" y1="249.31" x2="79.88" y2="246.31" stroke="#008000" stroke-width="2.0"/>
<line x1="75.18" y1="334.91" x2="75.02" y2="337.91" stroke="#008000" stroke-width="2.0"/>
<line x1="63.92" y1="248.43" x2="64.09" y2="245.43" stroke="#008000" stroke-width="2.0"/>
<line x1="59.16" y1="334.03" x2="58.99" y2="337.03" stroke="#008000" stroke-width="2.0"/>
<line x1="48.13" y1="247.52" x2="48.30" y2="244.52" stroke="#008000" stroke-width="2.0"/>
<line x1="43.13" y1="333.12" x2="42.96" y2="336.12" stroke="#008000" stroke-width="2.0"/>
<line x1="32.33" y1="246.55" x2="32.80" y2="238.95" stroke="#008000" stroke-width="2.1"/>
<line x1="27.11" y1="332.15" x2="26.64" y2="339.75" stroke="#008000" stroke-width="2.1"/>
<line x1="16.54" y1="245.55" x2="16.73" y2="242.55" stroke="#008000" stroke-width="2.0"/>
<line x1="11.08" y1="331.15" x2="10.89" y2="334.15" stroke="#008000" stroke-width="2.0"/>
<line x1="0.74" y1="244.50" x2="0.94" y2="241.50" stroke="#008000" stroke-width="2.0"/>
<line x1="-4.94" y1="330.10" x2="-5.14" y2="333.10" stroke="#008000" stroke-width="2.0"/>
<line x1="129.70" y1="192.30" x2="170.80" y2="242.00" stroke="#0000ff" stroke-width="1.1"/>
<line x1="158.70" y1="192.00" x2="184.20" y2="242.50" stroke="#0000ff" stroke-width="1.1"/>
<line x1="196.30" y1="193.30" x2="208.60" y2="243.40" stroke="#0000ff" stroke-width="1.1"/>
<line x1="246.40" y1="195.00" x2="218.40" y2="243.00" stroke="#0000ff" stroke-width="1.1"/>
<line x1="294.00" y1="196.00" x2="237.00" y2="244.00" stroke="#0000ff" stroke-width="1.1"/>
<line x1="372.70" y1="196.00" x2="439.90" y2="246.20" stroke="#0000ff" stroke-width="1.1"/>
<line x1="420.50" y1="196.00" x2="450.10" y2="246.20" stroke="#0000ff" stroke-width="1.1"/>
<line x1="457.20" y1="196.30" x2="508.80" y2="244.50" stroke="#0000ff" stroke-width="1.1"/>
<line x1="499.20" y1="195.50" x2="546.10" y2="244.00" stroke="#0000ff" stroke-width="1.1"/>
<line x1="546.70" y1="194.70" x2="566.70" y2="243.50" stroke="#0000ff" stroke-width="1.1"/>
<line x1="581.30" y1="193.30" x2="585.30" y2="242.70" stroke="#0000ff" stroke-width="1.1"/>
<polyline points="45.00,344.40 20.00,389.00" fill="none" stroke="#ff0000" stroke-width="1.1"/>
<polyline points="74.00,346.40 49.00,391.00" fill="none" stroke="#ff0000" stroke-width="1.1"/>
<polyline points="106.00,348.40 76.00,392.40" fill="none" stroke="#ff0000" stroke-width="1.1"/>
<polyline points="126.90,349.30 102.80,393.20" fill="none" stroke="#ff0000" stroke-width="1.1"/>
<polyline points="144.80,349.80 128.50,394.80" fill="none" stroke="#ff0000" stroke-width="1.1"/>
<polyline points="187.50,351.20 165.80,394.80" fill="none" stroke="#ff0000" stroke-width="1.1"/>
<polyline points="195.50,351.70 204.80,401.80 204.80,418.20" fill="none" stroke="#ff0000" stroke-width="1.1"/>
<polyline points="253.00,353.30 240.30,400.80" fill="none" stroke="#ff0000" stroke-width="1.1"/>
<polyline points="264.20,353.30 262.50,429.70" fill="none" stroke="#ff0000" stroke-width="1.1"/>
<polyline points="279.20,353.50 278.30,411.30" fill="none" stroke="#ff0000" stroke-width="1.1"/>
<polyline points="297.00,354.00 295.00,470.00" fill="none" stroke="#ff0000" stroke-width="1.1"/>
<polyline points="312.00,354.00 311.30,450.00" fill="none" stroke="#ff0000" stroke-width="1.1"/>
<polyline points="325.80,354.00 325.80,430.80" fill="none" stroke="#ff0000" stroke-width="1.1"/>
<polyline points="339.70,354.00 339.70,412.50" fill="none" stroke="#ff0000" stroke-width="1.1"/>
<polyline points="359.50,354.70 359.50,451.60" fill="none" stroke="#ff0000" stroke-width="1.1"/>
<polyline points="373.60,354.70 373.60,440.80" fill="none" stroke="#ff0000" stroke-width="1.1"/>
<polyline points="379.70,354.70 379.70,421.30" fill="none" stroke="#ff0000" stroke-width="1.1"/>
<polyline points="391.60,354.70 413.30,400.00" fill="none" stroke="#ff0000" stroke-width="1.1"/>
<polyline points="410.80,355.00 441.30,400.30" fill="none" stroke="#ff0000" stroke-width="1.1"/>
<polyline points="424.70,354.70 479.70,400.00" fill="none" stroke="#ff0000" stroke-width="1.1"/>
<polyline points="472.00,354.20 517.00,401.00" fill="none" stroke="#ff0000" stroke-width="1.1"/>
<polyline points="492.40,354.00 553.60,399.00" fill="none" stroke="#ff0000" stroke-width="1.1"/>
<polyline points="525.00,353.40 589.50,397.70" fill="none" stroke="#ff0000" stroke-width="1.1"/>
<rect x="487.18" y="229.02" width="39.5" height="10.5" fill="#fff" fill-opacity="0.55"/>
<text x="506.93" y="237.22" text-anchor="middle" font-size="8.7" fill="#222" textLength="37.5" lengthAdjust="spacing">1415 kbp</text>
<rect x="408.26" y="230.01" width="39.5" height="10.5" fill="#fff" fill-opacity="0.55"/>
<text x="428.01" y="238.21" text-anchor="middle" font-size="8.7" fill="#222" textLength="37.5" lengthAdjust="spacing">1420 kbp</text>
<rect x="329.33" y="229.92" width="39.5" height="10.5" fill="#fff" fill-opacity="0.55"/>
<text x="349.08" y="238.12" text-anchor="middle" font-size="8.7" fill="#222" textLength="37.5" lengthAdjust="spacing">1425 kbp</text>
<rect x="250.41" y="228.76" width="39.5" height="10.5" fill="#fff" fill-opacity="0.55"/>
<text x="270.16" y="236.96" text-anchor="middle" font-size="8.7" fill="#222" textLength="37.5" lengthAdjust="spacing">1430 kbp</text>
<rect x="171.49" y="226.53" width="39.5" height="10.5" fill="#fff" fill-opacity="0.55"/>
<text x="191.24" y="234.73" text-anchor="middle" font-size="8.7" fill="#222" textLength="37.5" lengthAdjust="spacing">1435 kbp</text>
<rect x="92.56" y="223.23" width="39.5" height="10.5" fill="#fff" fill-opacity="0.55"/>
<text x="112.31" y="231.43" text-anchor="middle" font-size="8.7" fill="#222" textLength="37.5" lengthAdjust="spacing">1440 kbp</text>
<rect x="13.64" y="218.85" width="39.5" height="10.5" fill="#fff" fill-opacity="0.55"/>
<text x="33.39" y="227.05" text-anchor="middle" font-size="8.7" fill="#222" textLength="37.5" lengthAdjust="spacing">1445 kbp</text>
<rect x="117.30" y="179.30" width="27.00" height="10.5" fill="#fff" fill-opacity="0.6"/>
<text x="118.30" y="187.80" font-size="10.3" fill="#0000ff" textLength="25.00" lengthAdjust="spacingAndGlyphs">ispDF</text>
<rect x="148.70" y="180.20" width="21.50" height="10.5" fill="#fff" fill-opacity="0.6"/>
<text x="149.70" y="188.70" font-size="10.3" fill="#0000ff" textLength="19.50" lengthAdjust="spacingAndGlyphs">cinA</text>
<rect x="175.30" y="181.50" width="41.70" height="10.5" fill="#fff" fill-opacity="0.6"/>
<text x="176.30" y="190.00" font-size="10.3" fill="#0000ff" textLength="39.70" lengthAdjust="spacing">Atu1439</text>
<rect x="225.00" y="183.00" width="42.00" height="10.5" fill="#fff" fill-opacity="0.6"/>
<text x="226.00" y="191.50" font-size="10.3" fill="#0000ff" textLength="40.00" lengthAdjust="spacing">Atu1438</text>
<rect x="273.40" y="184.50" width="41.60" height="10.5" fill="#fff" fill-opacity="0.6"/>
<text x="274.40" y="193.00" font-size="10.3" fill="#0000ff" textLength="39.60" lengthAdjust="spacing">Atu1437</text>
<rect x="352.30" y="185.70" width="41.90" height="10.5" fill="#fff" fill-opacity="0.6"/>
<text x="353.30" y="194.20" font-size="10.3" fill="#0000ff" textLength="39.90" lengthAdjust="spacing">Atu1422</text>
<rect x="399.20" y="185.70" width="41.00" height="10.5" fill="#fff" fill-opacity="0.6"/>
<text x="400.20" y="194.20" font-size="10.3" fill="#0000ff" textLength="39.00" lengthAdjust="spacing">Atu1421</text>
<rect x="445.80" y="185.10" width="24.20" height="10.5" fill="#fff" fill-opacity="0.6"/>
<text x="446.80" y="193.60" font-size="10.3" fill="#0000ff" textLength="22.20" lengthAdjust="spacingAndGlyphs">metF</text>
<rect x="479.00" y="184.30" width="42.00" height="10.5" fill="#fff" fill-opacity="0.6"/>
<text x="480.00" y="192.80" font-size="10.3" fill="#0000ff" textLength="40.00" lengthAdjust="spacing">Atu1416</text>
<rect x="526.50" y="183.50" width="42.00" height="10.5" fill="#fff" fill-opacity="0.6"/>
<text x="527.50" y="192.00" font-size="10.3" fill="#0000ff" textLength="40.00" lengthAdjust="spacing">Atu1415</text>
<rect x="572.90" y="182.70" width="17.40" height="10.5" fill="#fff" fill-opacity="0.6"/>
<text x="573.90" y="191.20" font-size="10.3" fill="#0000ff" textLength="15.40" lengthAdjust="spacingAndGlyphs">acd</text>
<rect x="10.60" y="390.50" width="20.40" height="10.5" fill="#fff" fill-opacity="0.6"/>
<text x="11.60" y="399.00" font-size="10.3" fill="#ff0000" textLength="18.40" lengthAdjust="spacingAndGlyphs">ntrX</text>
<rect x="40.00" y="392.10" width="20.00" height="10.5" fill="#fff" fill-opacity="0.6"/>
<text x="41.00" y="400.60" font-size="10.3" fill="#ff0000" textLength="18.00" lengthAdjust="spacingAndGlyphs">ntrY</text>
<rect x="66.60" y="393.10" width="21.40" height="10.5" fill="#fff" fill-opacity="0.6"/>
<text x="67.60" y="401.60" font-size="10.3" fill="#ff0000" textLength="19.40" lengthAdjust="spacingAndGlyphs">ntrC</text>
<rect x="93.50" y="394.20" width="20.80" height="10.5" fill="#fff" fill-opacity="0.6"/>
<text x="94.50" y="402.70" font-size="10.3" fill="#ff0000" textLength="18.80" lengthAdjust="spacingAndGlyphs">ntrB</text>
<rect x="118.90" y="396.40" width="19.90" height="10.5" fill="#fff" fill-opacity="0.6"/>
<text x="119.90" y="404.90" font-size="10.3" fill="#ff0000" textLength="17.90" lengthAdjust="spacingAndGlyphs">nifR</text>
<rect x="145.00" y="397.50" width="41.20" height="10.5" fill="#fff" fill-opacity="0.6"/>
<text x="146.00" y="406.00" font-size="10.3" fill="#ff0000" textLength="39.20" lengthAdjust="spacing">Atu1441</text>
<rect x="183.50" y="419.00" width="41.70" height="10.5" fill="#fff" fill-opacity="0.6"/>
<text x="184.50" y="427.50" font-size="10.3" fill="#ff0000" textLength="39.70" lengthAdjust="spacing">Atu1440</text>
<rect x="231.50" y="402.30" width="20.30" height="10.5" fill="#fff" fill-opacity="0.6"/>
<text x="232.50" y="410.80" font-size="10.3" fill="#ff0000" textLength="18.30" lengthAdjust="spacing">lipA</text>
<rect x="241.50" y="430.20" width="41.50" height="10.5" fill="#fff" fill-opacity="0.6"/>
<text x="242.50" y="438.70" font-size="10.3" fill="#ff0000" textLength="39.50" lengthAdjust="spacing">Atu1435</text>
<rect x="267.70" y="413.50" width="23.00" height="10.5" fill="#fff" fill-opacity="0.6"/>
<text x="268.70" y="422.00" font-size="10.3" fill="#ff0000" textLength="21.00" lengthAdjust="spacing">lpdA</text>
<rect x="274.30" y="471.20" width="41.70" height="10.5" fill="#fff" fill-opacity="0.6"/>
<text x="275.30" y="479.70" font-size="10.3" fill="#ff0000" textLength="39.70" lengthAdjust="spacing">Atu1433</text>
<rect x="299.80" y="451.20" width="22.50" height="10.5" fill="#fff" fill-opacity="0.6"/>
<text x="300.80" y="459.70" font-size="10.3" fill="#ff0000" textLength="20.50" lengthAdjust="spacingAndGlyphs">aceF</text>
<rect x="305.30" y="431.20" width="41.00" height="10.5" fill="#fff" fill-opacity="0.6"/>
<text x="306.30" y="439.70" font-size="10.3" fill="#ff0000" textLength="39.00" lengthAdjust="spacing">Atu1431</text>
<rect x="328.70" y="414.80" width="24.30" height="10.5" fill="#fff" fill-opacity="0.6"/>
<text x="329.70" y="423.30" font-size="10.3" fill="#ff0000" textLength="22.30" lengthAdjust="spacingAndGlyphs">pdhB</text>
<rect x="346.60" y="455.00" width="26.40" height="10.5" fill="#fff" fill-opacity="0.6"/>
<text x="347.60" y="463.50" font-size="10.3" fill="#ff0000" textLength="24.40" lengthAdjust="spacing">pdhA</text>
<rect x="352.40" y="442.50" width="41.70" height="10.5" fill="#fff" fill-opacity="0.6"/>
<text x="353.40" y="451.00" font-size="10.3" fill="#ff0000" textLength="39.70" lengthAdjust="spacing">Atu1428</text>
<rect x="358.50" y="422.10" width="41.50" height="10.5" fill="#fff" fill-opacity="0.6"/>
<text x="359.50" y="430.60" font-size="10.3" fill="#ff0000" textLength="39.50" lengthAdjust="spacing">Atu1427</text>
<rect x="404.80" y="400.20" width="18.20" height="10.5" fill="#fff" fill-opacity="0.6"/>
<text x="405.80" y="408.70" font-size="10.3" fill="#ff0000" textLength="16.20" lengthAdjust="spacingAndGlyphs">eno</text>
<rect x="429.50" y="401.80" width="25.20" height="10.5" fill="#fff" fill-opacity="0.6"/>
<text x="430.50" y="410.30" font-size="10.3" fill="#ff0000" textLength="23.20" lengthAdjust="spacing">kdsA</text>
<rect x="459.30" y="400.70" width="41.70" height="10.5" fill="#fff" fill-opacity="0.6"/>
<text x="460.30" y="409.20" font-size="10.3" fill="#ff0000" textLength="39.70" lengthAdjust="spacing">Atu1423</text>
<rect x="505.60" y="401.50" width="21.80" height="10.5" fill="#fff" fill-opacity="0.6"/>
<text x="506.60" y="410.00" font-size="10.3" fill="#ff0000" textLength="19.80" lengthAdjust="spacingAndGlyphs">gcvT</text>
<rect x="532.00" y="400.10" width="42.00" height="10.5" fill="#fff" fill-opacity="0.6"/>
<text x="533.00" y="408.60" font-size="10.3" fill="#ff0000" textLength="40.00" lengthAdjust="spacing">Atu1419</text>
<rect x="580.90" y="399.20" width="17.40" height="10.5" fill="#fff" fill-opacity="0.6"/>
<text x="581.90" y="407.70" font-size="10.3" fill="#ff0000" textLength="15.40" lengthAdjust="spacing">fad</text>
<text x="9.35" y="587.00" font-size="12.2" fill="#111" textLength="58.35" lengthAdjust="spacing">Accession:</text>
<text x="73.80" y="587.00" font-size="12.2" fill="#111" textLength="68.80" lengthAdjust="spacing">NC_003062</text>
<text x="262.60" y="587.00" font-size="12.2" fill="#111" textLength="52.80" lengthAdjust="spacing">Topology:</text>
<text x="322.60" y="587.00" font-size="12.2" fill="#111" textLength="43.80" lengthAdjust="spacing">circular;</text>
<text x="372.60" y="587.00" font-size="12.2" fill="#111" textLength="40.40" lengthAdjust="spacing">Length:</text>
<text x="418.60" y="587.00" font-size="12.2" fill="#111" textLength="62.80" lengthAdjust="spacing">2,841,580</text>
<text x="486.00" y="587.00" font-size="12.2" fill="#111" textLength="19.00" lengthAdjust="spacing">bp;</text>
<text x="510.60" y="587.00" font-size="12.2" fill="#111" textLength="40.40" lengthAdjust="spacing">Genes:</text>
<text x="555.00" y="587.00" font-size="12.2" fill="#111" textLength="34.40" lengthAdjust="spacing">2,814</text>
</svg>
</body></html>
